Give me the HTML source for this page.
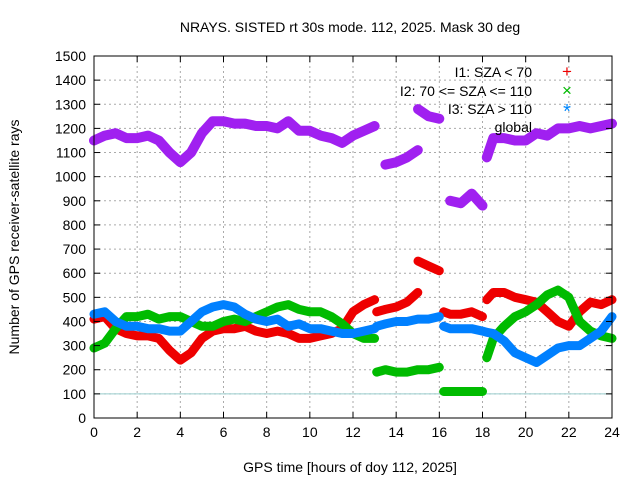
<!DOCTYPE html>
<html><head><meta charset="utf-8"><style>
body{margin:0;background:#fff}
svg text{font-family:"Liberation Sans",sans-serif;font-size:14px;fill:#000}
</style></head><body>
<svg id="c" width="640" height="480">
<g id="grid"></g>
<line id="ref100" stroke="#9cc" stroke-width="1"/>
<g id="series"></g>
<rect x="94" y="56" width="518" height="362" fill="none" stroke="#000"/>
<g id="ticks"></g>
<text x="350" y="32" text-anchor="middle">NRAYS. SISTED rt 30s mode. 112, 2025. Mask 30 deg</text>
<text x="350" y="472" text-anchor="middle">GPS time [hours of doy 112, 2025]</text>
<text transform="translate(19,237) rotate(-90)" text-anchor="middle">Number of GPS receiver-satellite rays</text>
<g>
<text x="532" y="77" text-anchor="end">I1: SZA &lt; 70</text>
<text x="532" y="96" text-anchor="end">I2: 70 &lt;= SZA &lt;= 110</text>
<text x="532" y="114" text-anchor="end">I3: SZA &gt; 110</text>
<text x="532" y="132" text-anchor="end">global</text>
<text x="567" y="77" text-anchor="middle" style="fill:#e00;font-size:17px">+</text>
<text x="567" y="96" text-anchor="middle" style="fill:#0b0;font-size:17px">×</text>
<text x="567" y="118" text-anchor="middle" style="fill:#08f;font-size:20px">*</text>
</g>
</svg>
<script>
const hours=[0,0.5,1,1.5,2,2.5,3,3.5,4,4.5,5,5.5,6,6.5,7,7.5,8,8.5,9,9.5,10,10.5,11,11.5,12,12.5,13,13.1,13.5,14,14.5,15,15.01,15.5,16,16.2,16.5,17,17.5,18,18.2,18.5,19,19.5,20,20.5,21,21.5,22,22.5,23,23.5,24];
// null marks a gap between segments
const globalVals=[1150,1170,1180,1160,1160,1170,1150,1100,1060,1100,1180,1230,1230,1220,1220,1210,1210,1200,1230,1190,1190,1170,1160,1140,1170,1190,1210,null,1050,1060,1080,1110,1280,1250,1240,null,900,890,930,880,1080,1160,1160,1150,1150,1180,1170,1200,1200,1210,1200,1210,1220];
const i1Vals=[410,420,370,350,340,340,330,280,240,270,330,360,370,370,380,360,350,360,350,330,330,340,350,370,440,470,490,440,450,460,480,520,650,630,610,440,430,430,440,420,490,520,520,500,490,480,440,400,380,440,480,470,490];
const i1Breaks=[13.1,15.01,16.2,18.2];
const i2Vals=[290,310,370,420,420,430,410,420,420,400,380,380,400,410,400,420,440,460,470,450,440,440,420,390,350,330,330,190,200,190,190,200,200,200,210,110,110,110,110,110,250,330,380,420,440,470,510,530,500,400,360,340,330];
const i2Breaks=[13.1,16.2,18.2];
const i3Vals=[430,440,400,380,380,370,370,360,360,400,440,460,470,460,430,410,400,410,380,390,370,370,360,350,350,360,370,380,390,400,400,410,410,410,420,380,370,370,370,360,355,350,320,270,250,230,260,290,300,300,330,360,420];
const i3Breaks=[16.2];
const globalBreaks=[15.01,18.2];
const xTicks=[0,2,4,6,8,10,12,14,16,18,20,22,24];
const yTicks=[0,100,200,300,400,500,600,700,800,900,1000,1100,1200,1300,1400,1500];
const X=h=>94+h*518/24, Y=v=>418-v*362/1500;
const NS='http://www.w3.org/2000/svg';
const grid=document.getElementById('grid'),ticks=document.getElementById('ticks'),ser=document.getElementById('series');
function mk(tag,par,at){const e=document.createElementNS(NS,tag);for(const k in at)e.setAttribute(k,at[k]);par.appendChild(e);return e;}
xTicks.forEach(t=>{const x=X(t);
 const g=mk('line',grid,{x1:x,x2:x,y1:56,y2:418,stroke:'#aaa','stroke-dasharray':'2,3'});
 
 mk('line',ticks,{x1:x,x2:x,y1:418,y2:412,stroke:'#000'});mk('line',ticks,{x1:x,x2:x,y1:56,y2:62,stroke:'#000'});
 const tx=mk('text',ticks,{x:x,y:437,'text-anchor':'middle'});tx.textContent=t;
 });
yTicks.forEach(t=>{const y=Y(t);
 const g=mk('line',grid,{x1:94,x2:612,y1:y,y2:y,stroke:'#aaa','stroke-dasharray':'2,3'});
 
 mk('line',ticks,{x1:94,x2:100,y1:y,y2:y,stroke:'#000'});mk('line',ticks,{x1:612,x2:606,y1:y,y2:y,stroke:'#000'});
 const tx=mk('text',ticks,{x:86,y:y+5,'text-anchor':'end'});tx.textContent=t;
 });
const r=document.getElementById('ref100');r.setAttribute('x1',94);r.setAttribute('x2',612);r.setAttribute('y1',Y(100));r.setAttribute('y2',Y(100));
function draw(vals,breaks,color,name,w){
 let segs=[],cur=[];
 hours.forEach((h,i)=>{const v=vals[i];
  if(v===null||breaks.includes(h)){if(cur.length)segs.push(cur);cur=[];}
  if(v!==null)cur.push(X(h).toFixed(1)+','+Y(v).toFixed(1));});
 if(cur.length)segs.push(cur);
 segs.forEach(s=>{const p=mk('polyline',ser,{points:s.join(' '),fill:'none',stroke:color,'stroke-width':w,'stroke-linejoin':'round','stroke-linecap':'round'});
  });
}
draw(i1Vals,i1Breaks,'#ee0000','series-i1',9);
draw(i2Vals,i2Breaks,'#00bb00','series-i2',9);
draw(i3Vals,i3Breaks,'#0080ff','series-i3',9);
draw(globalVals,globalBreaks,'#a020f0','series-global',10);
</script>
</body></html>
